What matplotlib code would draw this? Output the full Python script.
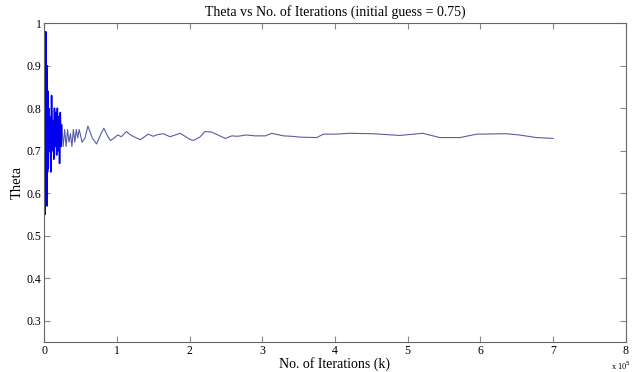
import numpy as np
import matplotlib
matplotlib.use("Agg")
import matplotlib.pyplot as plt

plt.rcParams['font.family'] = ['Liberation Serif', 'DejaVu Serif']

# iterations (x 10^5) and theta
k = [0.0, 0.004, 0.008, 0.012, 0.016, 0.02, 0.025, 0.03, 0.035, 0.04, 0.045,
     0.05, 0.055, 0.06, 0.07, 0.08, 0.09, 0.10, 0.11, 0.12, 0.13, 0.14,
     0.15, 0.16, 0.17, 0.18, 0.19, 0.20, 0.21, 0.22, 0.23, 0.24, 0.26,
     0.28, 0.30, 0.32, 0.34, 0.36, 0.38, 0.40, 0.42, 0.44, 0.46, 0.48,
     0.52, 0.56, 0.60, 0.66, 0.72, 0.78, 0.82, 0.87, 0.91, 0.96, 1.01,
     1.06, 1.13, 1.18, 1.22, 1.27, 1.32, 1.38, 1.43, 1.50, 1.56, 1.64,
     1.69, 1.73, 1.80, 1.87, 2.0, 2.05, 2.14, 2.21, 2.30, 2.39, 2.49,
     2.58, 2.66, 2.78, 2.90, 3.04, 3.13, 3.29, 3.40, 3.52, 3.75, 3.84,
     4.0, 4.2, 4.52, 4.71, 4.89, 5.21, 5.44, 5.72, 5.95, 6.36, 6.54,
     6.77, 7.0]
theta = [0.75, 0.87, 0.55, 0.94, 0.60, 0.98, 0.62, 0.86, 0.57, 0.90, 0.65,
         0.84, 0.66, 0.80, 0.70, 0.78, 0.65, 0.83, 0.70, 0.77, 0.68, 0.80,
         0.71, 0.79, 0.69, 0.80, 0.70, 0.78, 0.67, 0.79, 0.71, 0.76, 0.71,
         0.75, 0.71, 0.75, 0.72, 0.74, 0.71, 0.75, 0.72, 0.75, 0.73, 0.75,
         0.72, 0.73, 0.758, 0.73, 0.716, 0.74, 0.753, 0.735, 0.724, 0.73, 0.737,
         0.733, 0.745, 0.738, 0.734, 0.73, 0.726, 0.733, 0.739, 0.734, 0.738, 0.74,
         0.736, 0.733, 0.737, 0.741, 0.727, 0.724, 0.732, 0.745, 0.744, 0.737, 0.729,
         0.735, 0.734, 0.737, 0.735, 0.735, 0.741, 0.735, 0.734, 0.732, 0.731, 0.739,
         0.739, 0.741, 0.740, 0.738, 0.736, 0.741, 0.731, 0.731, 0.739, 0.740, 0.737,
         0.731, 0.729]

xticks = [0, 1, 2, 3, 4, 5, 6, 7, 8]
yticks = [0.3, 0.4, 0.5, 0.6, 0.7, 0.8, 0.9, 1.0]
ylabels = ['0.3', '0.4', '0.5', '0.6', '0.7', '0.8', '0.9', '1']

fig = plt.figure(figsize=(6.41, 3.72), dpi=100)
ax = fig.add_axes([0.0691, 0.0806, 0.907, 0.857])

ax.plot(k, theta, color='#5a5aa8', lw=0.8)
n = 32
ax.plot(k[:n], theta[:n], color='#0000ee', lw=1.1)

ax.set_xlim(0, 8)
ax.set_ylim(0.25, 1)
ax.set_xticks(xticks)
ax.set_xticklabels([str(t) for t in xticks])
ax.set_yticks(yticks)
ax.set_yticklabels(ylabels)
ax.tick_params(direction='in', length=4, width=0.8, color='#888888',
               labelsize=8.5, top=True, right=True, pad=2)
for s in ax.spines.values():
    s.set_color('#666666')
    s.set_linewidth(0.8)

ax.set_title('Theta vs No. of Iterations (initial guess = 0.75)', fontsize=10, pad=5)
ax.set_xlabel('No. of Iterations (k)', fontsize=10, labelpad=0)
ax.set_ylabel('Theta', fontsize=10.5, labelpad=2)
fig.text(0.985, 0.0, 'x 10$^5$', fontsize=6, ha='right', va='bottom')

fig.savefig('out.png', dpi=100)
